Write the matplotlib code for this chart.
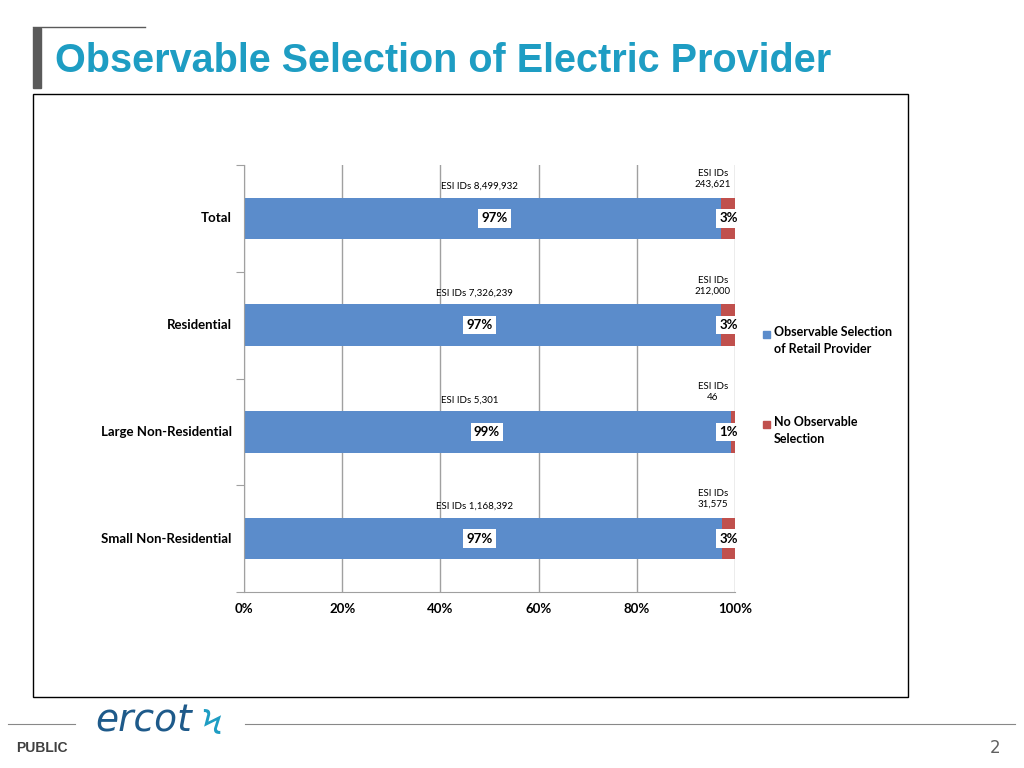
import matplotlib.pyplot as plt
from matplotlib.patches import Rectangle
from matplotlib.lines import Line2D

categories = ["Total", "Residential", "Large Non-Residential", "Small Non-Residential"]
observable = [8499932, 7326239, 5301, 1168392]
not_observable = [243621, 212000, 46, 31575]
obs_pct_labels = ["97%", "97%", "99%", "97%"]
no_pct_labels = ["3%", "3%", "1%", "3%"]
obs_label_x = [0.51, 0.48, 0.495, 0.48]
obs_count_x = [0.48, 0.47, 0.46, 0.47]

blue = "#5B8CCB"
red = "#C0504D"
cf = "Lato"

fig = plt.figure(figsize=(10.24, 7.68), dpi=100)
fig.patch.set_facecolor("white")

# title and frame
fig.add_artist(Rectangle((33/1024, 1-88/768), 8/1024, 60/768, transform=fig.transFigure, color="#5A5A5A"))
fig.add_artist(Line2D([33/1024, 145/1024], [1-27/768]*2, transform=fig.transFigure, color="#5A5A5A", lw=1))
fig.text(55/1024, 1-61/768, "Observable Selection of Electric Provider", color="#1E9DC3",
         fontsize=28.5, fontweight="bold", va="center", family="Liberation Sans")
fig.add_artist(Rectangle((33/1024, 1-697/768), 875/1024, 603/768, transform=fig.transFigure,
                         fill=False, ec="black", lw=1))

ax = fig.add_axes([244/1024, 1-592/768, 491/1024, 427/768])
n = len(categories)
ypos = list(range(n))
tot = [o + r for o, r in zip(observable, not_observable)]
share_o = [o / t for o, t in zip(observable, tot)]
share_r = [r / t for r, t in zip(not_observable, tot)]
ax.barh(ypos, share_o, height=0.39, color=blue, zorder=2)
ax.barh(ypos, share_r, left=share_o, height=0.39, color=red, zorder=2)
ax.set_ylim(n - 0.5, -0.5)
ax.set_xlim(0, 1)
ax.set_xticks([0, 0.2, 0.4, 0.6, 0.8, 1.0])
ax.set_xticklabels(["0%", "20%", "40%", "60%", "80%", "100%"], fontsize=9.5, fontweight="bold", family=cf)
ax.grid(axis="x", color="#A0A0A0", lw=1, zorder=0)
ax.set_yticks([i - 0.5 for i in range(n + 1)], minor=False)
ax.set_yticklabels([])
ax.tick_params(axis="y", length=6, color="#A0A0A0")
ax.tick_params(axis="x", length=0, pad=8)
for i, c in enumerate(categories):
    ax.text(-0.025, i, c, ha="right", va="center", fontsize=9.5, fontweight="bold", family=cf)
for s in ["top", "right"]:
    ax.spines[s].set_visible(False)
ax.spines["bottom"].set_color("#A0A0A0")
ax.spines["left"].set_color("#A0A0A0")

box = dict(boxstyle="square,pad=0.25", fc="white", ec="none")
for i in range(n):
    ax.text(obs_label_x[i], i, obs_pct_labels[i], ha="center", va="center",
            fontsize=9.5, fontweight="bold", bbox=box, zorder=3, family=cf)
    ax.text(0.987, i, no_pct_labels[i], ha="center", va="center",
            fontsize=9.5, fontweight="bold", bbox=box, zorder=3, family=cf)
    ax.text(obs_count_x[i], i - 0.3, "ESI IDs " + f"{observable[i]:,}", ha="center", va="center",
            fontsize=7, family=cf)
    ax.text(0.955, i - 0.37, "ESI IDs\n" + f"{not_observable[i]:,}", ha="center", va="center",
            fontsize=7, linespacing=1.3, family=cf)

# legend
fig.add_artist(Rectangle((763/1024, 1-338/768), 7/1024, 7/768, transform=fig.transFigure, color=blue))
fig.text(774/1024, 1-326/768, "Observable Selection\nof Retail Provider", fontsize=9, fontweight="bold",
         va="top", linespacing=1.5, family=cf)
fig.add_artist(Rectangle((763/1024, 1-428/768), 7/1024, 7/768, transform=fig.transFigure, color=red))
fig.text(774/1024, 1-416/768, "No Observable\nSelection", fontsize=9, fontweight="bold",
         va="top", linespacing=1.5, family=cf)

# footer
fig.add_artist(Line2D([8/1024, 75/1024], [1-724/768]*2, transform=fig.transFigure, color="#888888", lw=0.8))
fig.add_artist(Line2D([245/1024, 1015/1024], [1-724/768]*2, transform=fig.transFigure, color="#888888", lw=0.8))
fig.text(95/1024, 1-722/768, "ercot", fontsize=27, style="italic", color="#1E5A8A", va="center")
fig.text(222/1024, 1-724/768, "\u03de", fontsize=24, color="#1E9DC3", va="center", ha="right")
fig.text(16/1024, 1-748/768, "PUBLIC", fontsize=10, fontweight="bold", color="#404040", va="center",
         family="Liberation Sans")
fig.text(1000/1024, 1-748/768, "2", fontsize=12, color="#606060", va="center", ha="right")

fig.savefig("out.png", dpi=100)
